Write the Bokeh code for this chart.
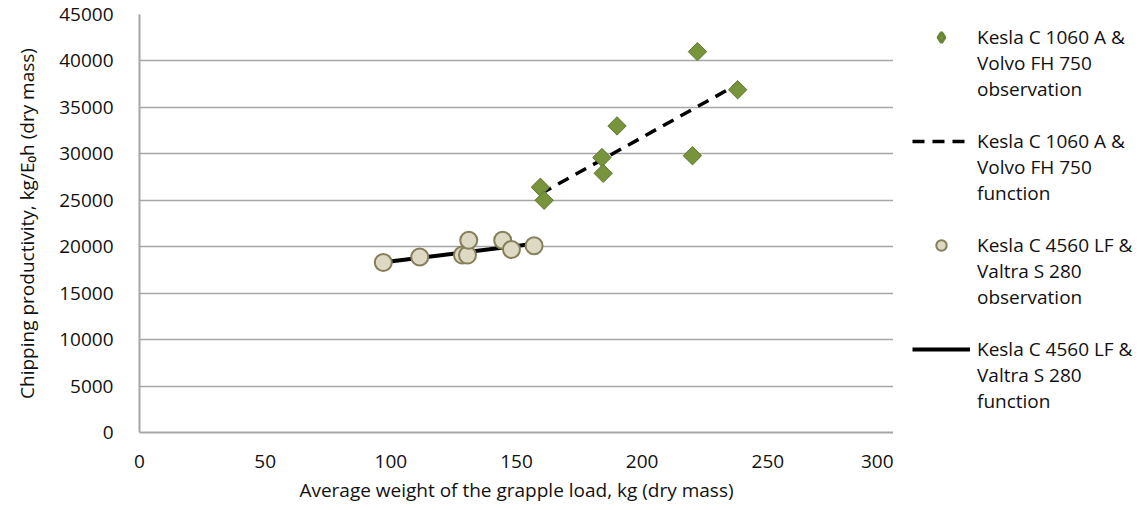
import math
from bokeh.plotting import figure
from bokeh.layouts import row
from bokeh.models import Legend, LegendItem, FixedTicker, NumeralTickFormatter, ColumnDataSource
from bokeh.embed import file_html
from bokeh.resources import INLINE

# ---- data ----
x_ticks = [0, 50, 100, 150, 200, 250, 300]
y_ticks = [0, 5000, 10000, 15000, 20000, 25000, 30000, 35000, 40000, 45000]

volvo_obs_x = [222, 238, 190, 184, 184.5, 220, 159.5, 161]
volvo_obs_y = [41000, 36900, 33000, 29600, 27900, 29800, 26400, 25000]

volvo_fun_x = [159.6, 238.4]
volvo_fun_y = [25700, 37550]

valtra_obs_x = [97, 111.5, 128.5, 130.5, 131, 144.5, 148, 157]
valtra_obs_y = [18300, 18900, 19100, 19100, 20700, 20700, 19700, 20100]

valtra_fun_x = [97.2, 157.1]
valtra_fun_y = [18330, 20310]

legend_lines = [
    ["Kesla C 1060 A &", "Volvo FH 750", "observation"],
    ["Kesla C 1060 A &", "Volvo FH 750", "function"],
    ["Kesla C 4560 LF &", "Valtra S 280", "observation"],
    ["Kesla C 4560 LF &", "Valtra S 280", "function"],
]

FONT = "Open Sans"
TXT = "#111111"
GRID = "#A6A6A6"

STY_VO = dict(fill_color="#77933C", line_color="#5E7A2E", line_width=1)
STY_VF = dict(line_color="black", line_width=3.5, line_dash="12 8")
STY_TO = dict(marker="circle", fill_color="#DDD9C3", line_color="#857F5A", line_width=2)
STY_TF = dict(line_color="black", line_width=4)

p = figure(width=893, height=510, x_range=(0, 300), y_range=(0, 45000),
           output_backend="svg", toolbar_location=None,
           min_border_left=139, min_border_right=0, min_border_top=14, min_border_bottom=78)
p.outline_line_color = None
p.background_fill_color = "white"
p.border_fill_color = "white"

p.xgrid.visible = False
p.ygrid.ticker = FixedTicker(ticks=y_ticks)
p.ygrid.grid_line_color = GRID
p.ygrid.grid_line_width = 1.5

p.xaxis.ticker = FixedTicker(ticks=x_ticks)
p.yaxis.ticker = FixedTicker(ticks=y_ticks)
p.yaxis.formatter = NumeralTickFormatter(format="0")
p.xaxis.formatter = NumeralTickFormatter(format="0")

for ax in (p.xaxis[0], p.yaxis[0]):
    ax.axis_line_color = GRID
    ax.axis_line_width = 2
    ax.major_tick_line_color = None
    ax.minor_tick_line_color = None
    ax.major_label_text_font = FONT
    ax.major_label_text_font_size = "19px"
    ax.major_label_text_color = TXT
    ax.axis_label_text_font = FONT
    ax.axis_label_text_font_size = "19px"
    ax.axis_label_text_font_style = "normal"
    ax.axis_label_text_color = TXT

p.xaxis.axis_label = "Average weight of the grapple load, kg (dry mass)"
p.yaxis.axis_label = "Chipping productivity, kg/E\u2080h (dry mass)"
p.xaxis.major_label_standoff = 16
p.xaxis.axis_label_standoff = 6
p.yaxis.major_label_standoff = 20
p.yaxis.axis_label_standoff = 16

src_vo = ColumnDataSource(dict(x=volvo_obs_x, y=volvo_obs_y))
src_vf = ColumnDataSource(dict(x=volvo_fun_x, y=volvo_fun_y))
src_to = ColumnDataSource(dict(x=valtra_obs_x, y=valtra_obs_y))
src_tf = ColumnDataSource(dict(x=valtra_fun_x, y=valtra_fun_y))

p.line("x", "y", source=src_tf, **STY_TF)
p.scatter("x", "y", source=src_to, size=17, **STY_TO)
p.line("x", "y", source=src_vf, **STY_VF)
p.scatter("x", "y", source=src_vo, marker="square", angle=math.pi / 4, size=13, **STY_VO)

# ---- legend panel (separate figure to the right; its ranges keep the data out of view) ----
lf = figure(width=250, height=510, x_range=(-2, -1), y_range=(-2, -1),
            output_backend="svg", toolbar_location=None,
            min_border_left=9, min_border_right=0, min_border_top=14, min_border_bottom=0)
lf.axis.visible = False
lf.grid.visible = False
lf.outline_line_color = None
lf.border_fill_color = "white"
lf.background_fill_color = "white"

k_vo = lf.scatter("x", "y", source=src_vo, marker="diamond", size=13,
                  fill_color="#77933C", line_color="#6A8534", line_width=3)
k_vf = lf.line("x", "y", source=src_vf, **STY_VF)
k_to = lf.scatter("x", "y", source=src_to, size=17, **STY_TO)
k_tf = lf.line("x", "y", source=src_tf, **STY_TF)
k_blank = lf.scatter("x", "y", source=src_vo, size=1, fill_alpha=0, line_alpha=0)

items = []
for gi, (lines, rend) in enumerate(zip(legend_lines, [k_vo, k_vf, k_to, k_tf])):
    if gi > 0:
        items.append(LegendItem(label=" ", renderers=[k_blank]))
    for li, txt in enumerate(lines):
        items.append(LegendItem(label=txt, renderers=[rend if li == 0 else k_blank]))

legend = Legend(items=items, location="top_left")
legend.margin = 10
legend.padding = 0
legend.spacing = 0
legend.glyph_width = 58
legend.glyph_height = 26
legend.label_height = 26
legend.label_standoff = 7
legend.label_text_font = FONT
legend.label_text_font_size = "19px"
legend.label_text_line_height = 1.0
legend.label_text_color = TXT
legend.border_line_color = None
legend.background_fill_alpha = 0
legend.inactive_fill_alpha = 0
lf.add_layout(legend, "center")

layout = row(p, lf)
open("out.html", "w").write(file_html(layout, INLINE))
